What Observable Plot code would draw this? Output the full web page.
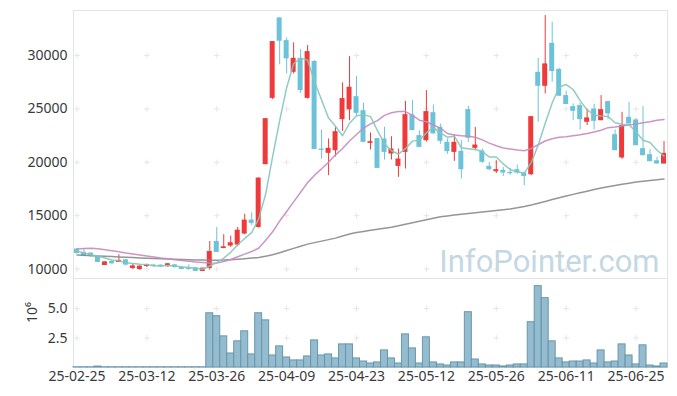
<!DOCTYPE html>
<html><head><meta charset="utf-8">
<script src="https://cdn.jsdelivr.net/npm/d3@7"></script>
<script src="https://cdn.jsdelivr.net/npm/@observablehq/plot@0.6"></script>
<style>
body{margin:0;background:#fff;}
#chart{width:677px;height:396px;}
#chart svg{display:block;}
</style></head><body><div id="chart"></div>
<script>
const dates = ["2025-02-25","2025-02-26","2025-02-27","2025-02-28","2025-03-04","2025-03-05","2025-03-06","2025-03-07","2025-03-10","2025-03-11",
"2025-03-12","2025-03-13","2025-03-14","2025-03-17","2025-03-18","2025-03-19","2025-03-20","2025-03-21","2025-03-24","2025-03-25",
"2025-03-26","2025-03-27","2025-03-28","2025-03-31","2025-04-01","2025-04-02","2025-04-03","2025-04-04","2025-04-07","2025-04-08",
"2025-04-09","2025-04-10","2025-04-11","2025-04-14","2025-04-15","2025-04-16","2025-04-17","2025-04-18","2025-04-21","2025-04-22",
"2025-04-23","2025-04-24","2025-04-25","2025-04-28","2025-04-29","2025-04-30","2025-05-02","2025-05-07","2025-05-08","2025-05-09",
"2025-05-12","2025-05-13","2025-05-14","2025-05-15","2025-05-16","2025-05-19","2025-05-20","2025-05-21","2025-05-22","2025-05-23",
"2025-05-26","2025-05-27","2025-05-28","2025-05-29","2025-05-30","2025-06-02","2025-06-04","2025-06-05","2025-06-09","2025-06-10",
"2025-06-11","2025-06-12","2025-06-13","2025-06-16","2025-06-17","2025-06-18","2025-06-19","2025-06-20","2025-06-23","2025-06-24",
"2025-06-25","2025-06-26","2025-06-27","2025-06-30","2025-07-01"];

const open = [11875,11556,11500,11181,10340,10710,10620,10870,10060,9960,
10240,10370,10370,10300,10400,10150,10080,10120,9780,10060,
12590,11930,12160,12250,13280,14590,13900,19780,25990,33530,
31400,28430,29740,25990,29440,21250,20840,21090,24000,24910,
26150,24840,21780,22220,22190,20780,19620,20930,24440,22500,
22030,24650,23280,21870,20930,21030,24940,21310,21060,19620,
19120,19250,19060,19310,19000,18840,28430,27120,31150,28690,
26250,25220,25310,23750,25000,23900,25690,22590,20410,24220,
23970,21280,20720,20150,19840];
const high = [11950,11931,11530,11181,10680,10800,11340,10900,10470,10310,
10460,10460,10400,10530,10430,10180,10400,10140,10100,12590,
13900,13220,13090,13900,15140,15280,18530,24090,31310,33530,
31650,31190,30560,30930,29530,23030,22190,23280,27440,29900,
28060,25530,22750,22220,23280,22400,21250,25710,25780,22940,
26720,25370,23590,22190,22590,22030,25250,23280,21250,20000,
20150,19530,19430,19750,19000,24280,29740,33750,33120,28810,
26660,25470,25530,25000,25440,26250,25690,23030,24690,25620,
24100,25220,21190,20470,21940];
const low = [11400,11150,11125,10620,10340,10430,10620,10280,9940,9870,
10150,10150,10180,10150,10100,9940,9900,9770,9770,9900,
11560,11900,12030,12090,13220,14090,13840,19780,25870,29130,
28280,28280,26460,25930,21190,20310,18750,20500,22900,23900,
24370,21870,21160,19430,20220,20220,18590,19370,22970,21400,
21900,22660,21690,20750,20090,18440,21870,21090,19900,19220,
18960,18680,18810,18900,17810,18750,23750,26410,27500,26190,
25410,23900,23030,23440,23030,23900,24000,21090,20280,23590,
21560,20620,20060,19840,19840];
const close = [11460,11181,11250,10620,10680,10500,10810,10375,10300,10280,
10400,10240,10210,10500,10150,9960,9960,9780,10090,11650,
11560,12090,12470,13650,14590,14280,18530,24090,31310,31340,
29690,29740,26720,30370,21190,21120,21310,22870,25970,27030,
24590,21870,21940,19430,20930,21250,20310,24470,22970,21400,
24750,22660,21970,21000,21870,19310,22250,21620,20000,19310,
19310,19000,18930,19000,18680,24280,27120,29220,28500,26190,
25410,24780,24000,24160,23840,24940,24530,21090,23440,23590,
21560,20620,20060,19840,20840];
const ma5 = [11700,11500,11350,11200,11038,10846,10772,10597,10533,10453,
10433,10319,10286,10326,10300,10212,10156,10070,9988,10288,
10608,11034,11572,12284,12872,13416,14704,17028,20560,23910,
26992,29234,29760,29572,27542,25828,24142,23372,22492,23660,
24354,24466,24280,22972,21752,21084,20772,21278,21986,22080,
22780,23250,22750,22356,22450,21362,21280,21210,21010,20498,
20498,19848,19310,19110,18984,19978,21602,23660,25560,27062,
27288,26820,25776,24908,24438,24344,24294,23712,23568,23518,
22842,22060,21854,21134,20584];
const ma20 = [11880,11920,11960,11900,11820,11720,11620,11500,11410,11320,
11230,11140,11040,10960,10880,10800,10730,10660,10610,10570,
10560,10720,10900,11150,11400,11650,11950,12700,13500,14500,
15400,16300,17200,18100,18800,19400,20000,20700,21300,22000,
22600,23200,23600,23900,24400,24650,24750,24750,24400,23950,
23800,23500,23200,22700,22550,22500,22450,22350,22100,21800,
21550,21350,21250,21150,21090,21300,21650,22000,22200,22340,
22400,22500,22590,22700,22850,23000,23250,23300,23400,23500,
23580,23700,23800,23950,24000];
const ma60 = [11320,11290,11260,11230,11200,11170,11140,11110,11080,11050,
11020,10990,10960,10940,10920,10900,10880,10860,10850,10840,
10840,10850,10880,10920,10970,11030,11090,11210,11340,11540,
11740,11940,12140,12340,12480,12620,12760,12900,13100,13280,
13430,13530,13630,13730,13830,13920,14060,14200,14340,14480,
14620,14760,14900,14980,15060,15140,15210,15280,15350,15420,
15490,15560,15640,15740,15860,16000,16170,16340,16510,16680,
16850,17000,17150,17300,17450,17600,17720,17830,17940,18050,
18150,18230,18300,18370,18440];
// volume in millions of shares
const volume = [0.02,0.02,0.02,0.08,0.02,0.02,0.02,0.02,0.02,0.02,
0.02,0.02,0.02,0.02,0.02,0.02,0.02,0.02,0.02,4.60,
4.35,2.64,1.19,2.22,3.07,1.11,4.60,4.00,1.02,1.79,
0.85,0.60,0.60,0.94,2.30,1.02,1.11,0.77,1.96,1.96,
0.77,0.51,0.34,0.43,1.45,0.77,0.34,2.81,1.62,0.34,
2.56,0.43,0.26,0.17,0.43,0.43,4.69,0.68,0.26,0.17,
0.17,0.09,0.17,0.26,0.26,3.84,6.90,5.88,2.22,0.77,
0.43,0.51,0.51,0.60,0.34,1.45,0.43,0.51,1.96,1.02,
0.26,1.88,0.17,0.09,0.34];

const priceTicks = [10000,15000,20000,25000,30000];
const volTicks = [2.5,5.0];
const watermark = "InfoPointer.com";
const volUnit = "10⁶";

const rows = dates.map((d,i)=>({date:d, open:open[i], high:high[i], low:low[i], close:close[i],
  ma5:ma5[i], ma20:ma20[i], ma60:ma60[i], vol:volume[i]}));
const up = rows.filter(r=>r.close>=r.open);
const down = rows.filter(r=>r.close<r.open);
const xTicks = dates.filter((d,i)=>i%10===0);
const gridTop = xTicks.flatMap(x=>priceTicks.map(y=>({x,y})));
const gridVol = xTicks.flatMap(x=>volTicks.map(y=>({x,y})));

const RED="#ee3a3a", BLUE="#6cc3d9";
const font = {fontFamily:"'Noto Sans', sans-serif", fontSize:"14px", color:"#3a3a3a", background:"transparent"};

const topChart = Plot.plot({
  width:677, height:278, marginTop:10, marginBottom:0, marginLeft:73, marginRight:10,
  style:font,
  x:{type:"band", domain:dates, padding:0, axis:null},
  y:{domain:[9120,34220], ticks:priceTicks, tickFormat:"d", tickSize:0, tickPadding:6, label:null},
  marks:[
    Plot.frame({stroke:"#e4e4e4"}),
    Plot.dot(gridTop,{x:"x", y:"y", symbol:"plus", r:2, stroke:"#e6e6e6", strokeWidth:1}),
    Plot.text([watermark],{frameAnchor:"bottom-right", textAnchor:"end", lineAnchor:"bottom", dx:-8, dy:-7,
      fontSize:31, fontFamily:"Roboto", fill:"#c4d8e3"}),
    Plot.ruleX(up,{x:"date", y1:"low", y2:"high", stroke:RED, strokeWidth:1}),
    Plot.ruleX(down,{x:"date", y1:"low", y2:"high", stroke:BLUE, strokeWidth:1}),
    Plot.barY(up,{x:"date", y1:"open", y2:"close", fill:RED, insetLeft:1, insetRight:1}),
    Plot.barY(down,{x:"date", y1:"open", y2:"close", fill:BLUE, insetLeft:1, insetRight:1}),
    Plot.lineY(rows,{x:"date", y:"ma60", stroke:"#8a8a8a", strokeWidth:1.5, strokeOpacity:0.9}),
    Plot.lineY(rows,{x:"date", y:"ma20", stroke:"#c689c1", strokeWidth:1.5, strokeOpacity:0.9}),
    Plot.lineY(rows,{x:"date", y:"ma5", stroke:"#84c6b9", strokeWidth:1.5, strokeOpacity:0.9})
  ]
});

const volChart = Plot.plot({
  width:677, height:118, marginTop:0, marginBottom:29, marginLeft:73, marginRight:10,
  style:font,
  x:{type:"band", domain:dates, padding:0, ticks:xTicks, tickFormat:d=>d.slice(2), tickSize:0, tickPadding:4, label:null},
  y:{domain:[0,7.55], ticks:volTicks, tickFormat:".1f", tickSize:0, tickPadding:6, label:null},
  marks:[
    Plot.frame({stroke:"#e4e4e4"}),
    Plot.dot(gridVol,{x:"x", y:"y", symbol:"plus", r:2, stroke:"#e6e6e6", strokeWidth:1}),
    Plot.barY(rows,{x:"date", y:"vol", fill:"#8ab5c9", fillOpacity:0.9, stroke:"#6797ae", strokeWidth:1}),
    Plot.text([volUnit],{frameAnchor:"left", dx:-41, rotate:-90, fontSize:14, fill:"#3a3a3a"})
  ]
});

const root = document.getElementById("chart");
root.appendChild(topChart);
root.appendChild(volChart);
</script></body></html>
